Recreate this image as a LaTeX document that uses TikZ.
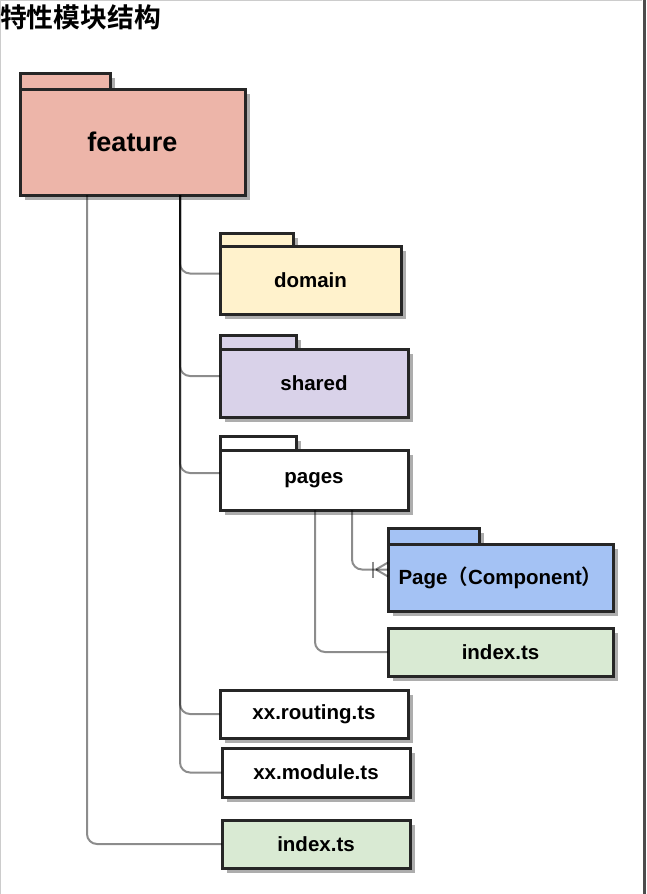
\documentclass[tikz,border=0pt]{standalone}
\usepackage{fontspec}
\setmainfont{Liberation Sans}
\newfontfamily\cjk{Noto Sans CJK SC}[BoldFont=* Bold]
\usetikzlibrary{calc,shadows}
\definecolor{featcol}{HTML}{EDB5A9}
\definecolor{domcol}{HTML}{FFF2CC}
\definecolor{shacol}{HTML}{D9D2E9}
\definecolor{pagecol}{HTML}{A4C2F4}
\definecolor{idxcol}{HTML}{D9EAD3}
\begin{document}
\begin{tikzpicture}[x=1pt,y=-1pt,
  box/.style={draw=black!85,line width=3pt,outer sep=0pt,inner sep=0pt,
    drop shadow={shadow xshift=4.5pt,shadow yshift=-4.5pt,fill=black!32,opacity=1}},
  folder/.style={box,anchor=north west,font=\fontsize{20.5}{24}\selectfont\bfseries},
  tab/.style={box,anchor=south west},
  conn/.style={draw=black,draw opacity=.45,line width=2pt,rounded corners=10pt}]
\useasboundingbox (0,0) rectangle (646,894);
% frame
\draw[black!20,line width=1pt] (0.5,894) -- (0.5,0.5) -- (642,0.5);
\draw[black!70,line width=3pt] (644.5,0) -- (644.5,894);
\node[anchor=west,inner sep=0pt,font=\cjk\fontsize{26.8}{30}\selectfont\bfseries] (title) at (0,17) {特性模块结构};
% folders
\node[tab,fill=featcol,minimum width=90pt,minimum height=16pt] (featuretab) at (20,89) {};
\node[folder,fill=featcol,minimum width=225pt,minimum height=106pt,font=\fontsize{27}{30}\selectfont\bfseries] (feature) at (20,89) {feature};
\node[tab,fill=domcol,minimum width=73pt,minimum height=13pt] (domaintab) at (220,246) {};
\node[folder,fill=domcol,minimum width=181pt,minimum height=68pt] (domain) at (220,246) {domain};
\node[tab,fill=shacol,minimum width=76pt,minimum height=14pt] (sharedtab) at (220,349) {};
\node[folder,fill=shacol,minimum width=188pt,minimum height=68pt] (shared) at (220,349) {shared};
\node[tab,fill=white,minimum width=76pt,minimum height=14pt] (pagestab) at (220,450) {};
\node[folder,fill=white,minimum width=188pt,minimum height=60pt] (pages) at (220,450) {pages};
\node[tab,fill=pagecol,minimum width=91pt,minimum height=16pt] (pagetab) at (388,544) {};
\node[folder,fill=pagecol,minimum width=225pt,minimum height=67pt] (page) at (388,544) {Page{\cjk （}Component{\cjk ）}};
% files
\node[folder,fill=idxcol,minimum width=225pt,minimum height=48pt] (pindex) at (388,628) {index.ts};
\node[folder,fill=white,minimum width=188pt,minimum height=48pt] (routing) at (220,690) {xx.routing.ts};
\node[folder,fill=white,minimum width=188pt,minimum height=49pt] (module) at (222,748) {xx.module.ts};
\node[folder,fill=idxcol,minimum width=188pt,minimum height=48pt] (findex) at (222,820) {index.ts};
% connectors
\draw[conn] ([xshift=160pt]feature.south west) |- ([yshift=6.5pt]domain.west);
\draw[conn] ([xshift=160pt]feature.south west) |- ([yshift=7pt]shared.west);
\draw[conn] ([xshift=160pt]feature.south west) |- ([yshift=7pt]pages.west);
\draw[conn] ([xshift=160pt]feature.south west) |- (routing.west);
\draw[conn] ([xshift=160pt]feature.south west) |- (module.west);
\draw[conn] ([xshift=67pt]feature.south west) |- (findex.west);
\draw[conn] ([xshift=95pt]pages.south west) |- (pindex.west);
\draw[conn] ([xshift=132pt]pages.south west) |- ([yshift=8pt]page.west);
% crow's foot
\draw[conn] ([xshift=-12pt,yshift=8pt]page.west) -- ([yshift=15pt]page.west);
\draw[conn] ([xshift=-12pt,yshift=8pt]page.west) -- ([yshift=1pt]page.west);
\draw[conn] ([xshift=-15pt,yshift=16pt]page.west) -- ([xshift=-15pt]page.west);
\end{tikzpicture}
\end{document}
